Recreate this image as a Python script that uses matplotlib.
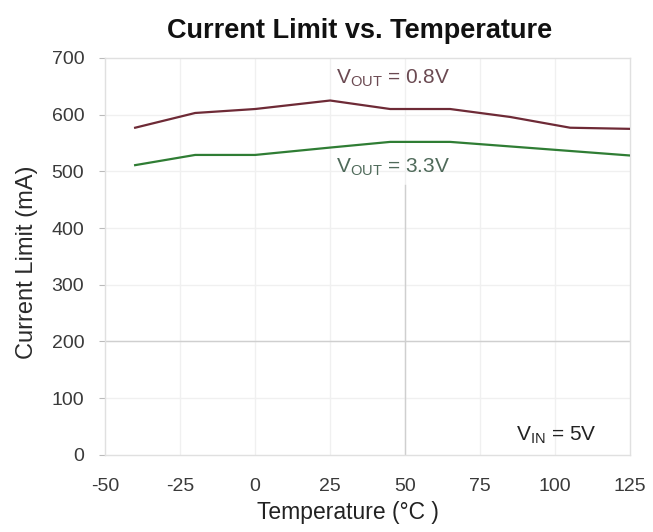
import matplotlib
matplotlib.use("Agg")
import matplotlib.pyplot as plt

plt.rcParams.update({
    "font.family": ["Liberation Sans", "DejaVu Sans"],
    "mathtext.fontset": "custom",
    "mathtext.rm": "Liberation Sans",
    "axes.unicode_minus": False,
})

# temperatures (°C) and current limit readings (mA)
temp = [-40, -20, 0, 25, 45, 65, 85, 105, 125]
ilim_08v = [577, 603, 610, 625, 610, 610, 596, 577, 575]
ilim_33v = [511, 529, 529, 542, 552, 552, 544, 536, 528]

xticks = [-50, -25, 0, 25, 50, 75, 100, 125]
yticks = [0, 100, 200, 300, 400, 500, 600, 700]

RED = "#6e2a36"
GREEN = "#2f7d34"

fig = plt.figure(figsize=(6.53, 5.32), dpi=100)
ax = fig.add_axes([0.161, 0.145, 0.804, 0.746])

# faint scanned-looking grid, two lines more visible
for x in xticks[1:-1]:
    ax.axvline(x, color="#f0f0f0", lw=1.0, zorder=0)
for y in yticks[1:-1]:
    ax.axhline(y, color="#f0f0f0", lw=1.0, zorder=0)
ax.axvline(50, ymax=0.68, color="#cfcfcf", lw=1.0, zorder=1)
ax.axhline(200, color="#cfcfcf", lw=1.0, zorder=1)

ax.plot(temp, ilim_08v, color=RED, lw=1.6, zorder=3)
ax.plot(temp, ilim_33v, color=GREEN, lw=1.6, zorder=3)

ax.text(46, 664, r"V$_{\rm OUT}$ = 0.8V", color="#6b4a52", fontsize=15, ha="center", va="center")
ax.text(46, 508, r"V$_{\rm OUT}$ = 3.3V", color="#4f6a5a", fontsize=15, ha="center", va="center")
ax.text(100.5, 35, r"V$_{\rm IN}$ = 5V", color="#222222", fontsize=15, ha="center", va="center")

ax.set_xlim(-50, 125)
ax.set_ylim(0, 700)
ax.set_xticks(xticks)
ax.set_yticks(yticks)
ax.tick_params(axis="x", length=0, pad=17, labelsize=14, colors="#3a3a3a")
ax.tick_params(axis="y", length=4, color="#bbbbbb", pad=11, labelsize=14, labelcolor="#3a3a3a")
for s in ax.spines.values():
    s.set_color("#e0e0e0")
    s.set_linewidth(1.0)

fig.text(348 / 653, 1 - 513 / 532, "Temperature (°C )", fontsize=16.5, color="#222222",
         ha="center", va="center")
fig.text(27 / 653, 1 - 262 / 532, "Current Limit (mA)", fontsize=17, color="#2a2a2a",
         ha="center", va="center", rotation=90)
fig.text(360 / 653, 1 - 31 / 532, "Current Limit vs. Temperature", fontsize=19.5,
         fontweight="bold", ha="center", va="center", color="#111111")

fig.savefig("out.png", dpi=100)
